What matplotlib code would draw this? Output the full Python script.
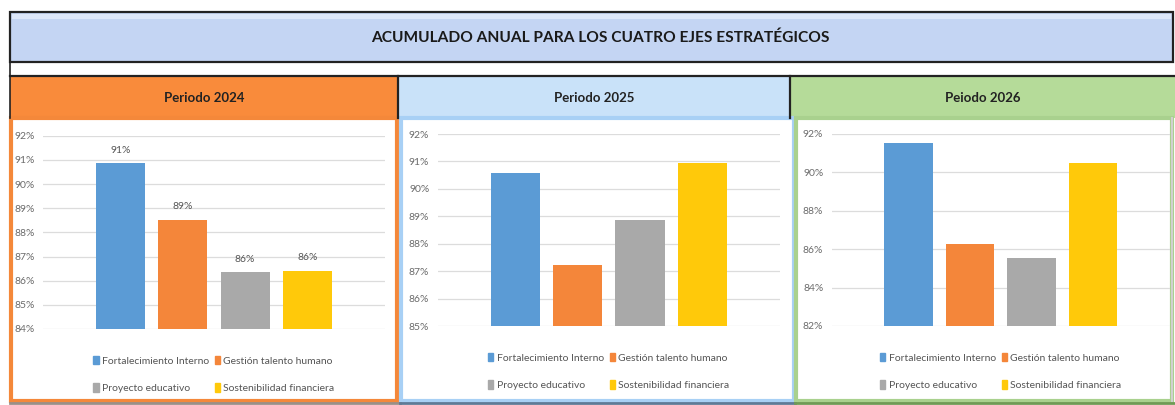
import numpy as np
import matplotlib
matplotlib.use("Agg")
import matplotlib.pyplot as plt
from matplotlib.patches import Rectangle, Patch
from matplotlib.ticker import FuncFormatter, MultipleLocator

plt.rcParams['font.family'] = ['Lato', 'DejaVu Sans']

# data
series = ['Fortalecimiento Interno', 'Gestión talento humano',
          'Proyecto educativo', 'Sostenibilidad financiera']
colors = ['#5B9BD5', '#F4863A', '#A9A9A9', '#FFC90A']
periods = ['Periodo 2024', 'Periodo 2025', 'Peiodo 2026']
vals_2024 = [90.86, 88.52, 86.36, 86.41]
vals_2025 = [90.57, 87.24, 88.86, 90.93]
vals_2026 = [91.51, 86.25, 85.53, 90.47]
ylims = [(84, 92), (85, 92), (82, 92)]
ysteps = [1, 1, 2]
show_labels = [True, False, False]

title = 'ACUMULADO ANUAL PARA LOS CUATRO EJES ESTRATÉGICOS'
head_colors = ['#F98B3B', '#C9E2F9', '#B5DB99']
body_edges = ['#F4883A', '#A8D0F5', '#A9D18E']

W, H = 1175, 405
fig = plt.figure(figsize=(W / 100, H / 100), dpi=100)
fig.patch.set_facecolor('white')

# background frame drawn in pixel units
bg = fig.add_axes([0, 0, 1, 1])
bg.set_xlim(0, W)
bg.set_ylim(H, 0)
bg.axis('off')

bg.add_patch(Rectangle((10, 12), 1163, 50, fc='#C4D5F3', ec='#222222', lw=1.6))
bg.add_patch(Rectangle((12, 14), 1159, 5, fc='#DDE7F9', ec='none'))
bg.text(600, 38, title, ha='center', va='center', fontsize=11.2,
        fontweight='bold', color='#1a1a1a')

cells = [(10, 388), (398, 392), (790, 385)]
for (x0, w), hc, ec, name in zip(cells, head_colors, body_edges, periods):
    bg.add_patch(Rectangle((x0, 76), w, 42, fc=hc, ec='none'))
    bg.text(x0 + w / 2, 98, name, ha='center', va='center', fontsize=9.5,
            fontweight='bold', color='#222222')
bg.plot([10, 1175], [76, 76], color='#222222', lw=1.6)
bg.plot([10, 10], [12, 118], color='#222222', lw=1.2)
bg.plot([398, 398], [76, 118], color='#222222', lw=1.6)
bg.plot([790, 790], [76, 118], color='#222222', lw=1.6)

# panel bodies
bodies = [(11, 386), (401, 393), (796, 376)]
for (x0, w), ec in zip(bodies, body_edges):
    bg.add_patch(Rectangle((x0, 118), w, 283, fc='white', ec=ec, lw=3))
bg.plot([1172, 1172], [118, 401], color='#d0d0d0', lw=1.5)
bg.plot([10, 400], [402.5, 402.5], color='#9a8f88', lw=2)
bg.plot([400, 795], [402.5, 402.5], color='#5f7a96', lw=2)
bg.plot([795, 1175], [402.5, 402.5], color='#6f9a55', lw=2)

# chart axes positions (pixels: left, top, right, bottom)
boxes = [(43, 135.7, 385, 329), (437.7, 134, 780, 326), (831.7, 134, 1170, 326)]
all_vals = [vals_2024, vals_2025, vals_2026]
x = np.arange(len(series))

for box, vals, yl, st, lab in zip(boxes, all_vals, ylims, ysteps, show_labels):
    l, t, r, b = box
    ax = fig.add_axes([l / W, (H - b) / H, (r - l) / W, (b - t) / H])
    ax.set_facecolor('none')
    ax.bar(x, vals, width=0.79, color=colors, zorder=3)
    ax.set_xlim(-1.25, 4.25)
    ax.set_ylim(*yl)
    ax.yaxis.set_major_locator(MultipleLocator(st))
    ax.yaxis.set_major_formatter(FuncFormatter(lambda v, p: f'{v:.0f}%'))
    ax.grid(axis='y', color='#DCDCDC', lw=0.9, zorder=0)
    ax.set_xticks([])
    for s in ax.spines.values():
        s.set_visible(False)
    ax.tick_params(axis='y', length=0, labelsize=7.5, labelcolor='#6b6b6b', pad=6)
    if lab:
        for xi, v in zip(x, vals):
            ax.annotate(f'{v:.0f}%', (xi, v), xytext=(0, 6), textcoords='offset points',
                        ha='center', va='bottom', fontsize=7.5, color='#555555')
    order = [0, 2, 1, 3]
    handles = [Patch(color=colors[i], label=series[i]) for i in order]
    ax.legend(handles=handles, loc='upper center', bbox_to_anchor=(0.5, -0.09), ncol=2,
              frameon=False, fontsize=7.5, handlelength=0.5, handleheight=0.9,
              handletextpad=0.3, columnspacing=0.6, labelspacing=1.7,
              labelcolor='#555555')

fig.savefig('out.png', dpi=100, facecolor='white')
